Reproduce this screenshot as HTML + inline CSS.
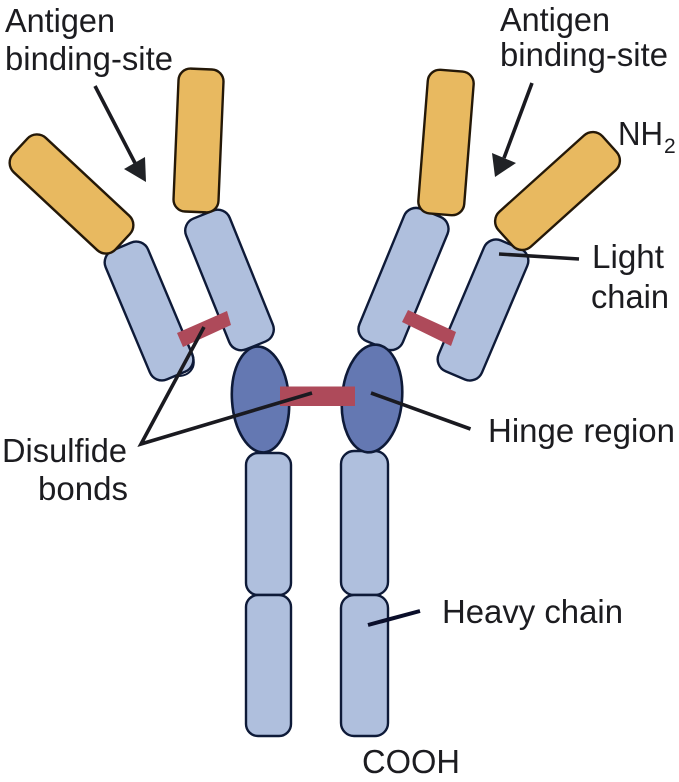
<!DOCTYPE html>
<html>
<head>
<meta charset="utf-8">
<style>
html,body{margin:0;padding:0;background:#fff;width:679px;height:782px;overflow:hidden}
svg{display:block}
text{font-family:"Liberation Sans",sans-serif;font-size:33.5px;fill:#1c1c20}
.b{fill:#afbfdd;stroke:#0e1a38;stroke-width:2.4}
.o{fill:#e8b960;stroke:#241808;stroke-width:2.4}
.e{fill:#6478b2;stroke:#0e1a38;stroke-width:2.6}
.r{fill:#ae4a5a}
.l{stroke:#1a1a20;stroke-width:3.6;fill:none}
.d{stroke:#0a0e2a;stroke-width:4;fill:none}
.a{fill:#202226}
</style>
</head>
<body>
<svg width="679" height="782" viewBox="0 0 679 782" xmlns="http://www.w3.org/2000/svg">
<rect width="679" height="782" fill="#fff"/>

<!-- heavy chain -->
<rect class="b" x="246" y="453" width="45" height="142" rx="12"/>
<rect class="b" x="246" y="595" width="45" height="141" rx="12"/>
<rect class="b" x="341" y="451" width="47" height="144" rx="13"/>
<rect class="b" x="341" y="595" width="47" height="141" rx="13"/>

<!-- left arm -->
<path d="M188 345 Q196 358 193 367 Q189 376 178 376" fill="none" stroke="#0e1a38" stroke-width="2"/>
<rect class="b" x="-23" y="-70" width="46" height="140" rx="13" transform="translate(149 311) rotate(-22.8)"/>
<rect class="b" x="-23.5" y="-70.5" width="47" height="141" rx="13" transform="translate(229.5 280) rotate(-22)"/>
<rect class="o" x="-70" y="-23.5" width="140" height="47" rx="13" transform="translate(71.5 194) rotate(43)"/>
<rect class="o" x="-22.5" y="-71.5" width="45" height="143" rx="12" transform="translate(198.5 140.5) rotate(2.4)"/>

<!-- right arm -->
<rect class="b" x="-23.5" y="-71.5" width="47" height="143" rx="13" transform="translate(403.5 279) rotate(22.4)"/>
<rect class="b" x="-23.5" y="-71" width="47" height="142" rx="13" transform="translate(483 310) rotate(23)"/>
<rect class="o" x="-23" y="-72" width="46" height="144" rx="12" transform="translate(446 142.5) rotate(4.5)"/>
<rect class="o" x="-70" y="-23.5" width="140" height="47" rx="13" transform="translate(557.5 191) rotate(-42)"/>

<!-- hinge -->
<ellipse class="e" cx="260.5" cy="399.5" rx="28.5" ry="53" transform="rotate(-4 260.5 399.5)"/>
<ellipse class="e" cx="372" cy="398.5" rx="30" ry="54" transform="rotate(5 372 398.5)"/>

<!-- disulfide bonds -->
<polygon class="r" points="177,333 227,311 231,325 183,347"/>
<polygon class="r" points="408,310 456,332 451,346 402,322"/>
<rect class="r" x="280" y="386.5" width="75" height="19.5"/>

<!-- leaders -->
<polyline class="l" points="204,327 141,444 312,393"/>
<line class="l" x1="371" y1="393" x2="470.5" y2="429"/>
<line class="l" x1="499" y1="254" x2="579" y2="259"/>
<line class="d" x1="368" y1="625" x2="420" y2="611"/>

<!-- arrows -->
<line class="l" stroke-width="4" x1="95" y1="86" x2="135" y2="163"/>
<polygon class="a" points="146,182 124,169 145,157"/>
<line class="l" stroke-width="4" x1="532" y1="83" x2="504" y2="158"/>
<polygon class="a" points="495,177 492,153 516,163"/>

<!-- labels -->
<text x="5" y="32" textLength="110" lengthAdjust="spacingAndGlyphs">Antigen</text>
<text x="5" y="70" textLength="168" lengthAdjust="spacingAndGlyphs">binding-site</text>
<text x="500" y="31" textLength="110" lengthAdjust="spacingAndGlyphs">Antigen</text>
<text x="500" y="66" textLength="168" lengthAdjust="spacingAndGlyphs">binding-site</text>
<text x="618" y="145" textLength="45" lengthAdjust="spacingAndGlyphs">NH</text>
<text x="664" y="153" style="font-size:21px">2</text>
<text x="592" y="268" textLength="72" lengthAdjust="spacingAndGlyphs">Light</text>
<text x="591" y="308" textLength="78" lengthAdjust="spacingAndGlyphs">chain</text>
<text x="488" y="442" textLength="187" lengthAdjust="spacingAndGlyphs">Hinge region</text>
<text x="2" y="462" textLength="125" lengthAdjust="spacingAndGlyphs">Disulfide</text>
<text x="38" y="500" textLength="90" lengthAdjust="spacingAndGlyphs">bonds</text>
<text x="442" y="623" textLength="181" lengthAdjust="spacingAndGlyphs">Heavy chain</text>
<text x="362" y="773" textLength="98" lengthAdjust="spacingAndGlyphs">COOH</text>
</svg>
</body>
</html>
